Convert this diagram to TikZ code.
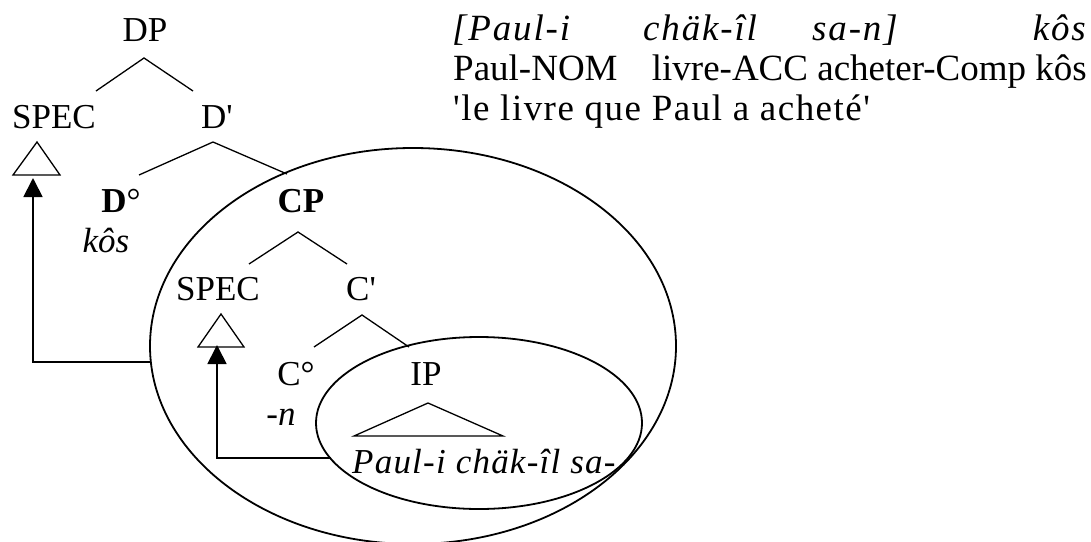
\documentclass[tikz,border=0pt]{standalone}
\usepackage{fontspec}
\newfontfamily\tnr{Liberation Serif}
\newfontfamily\tnrsp{Liberation Serif}[LetterSpace=3.5]
\newfontfamily\tnrgl{Liberation Serif}[LetterSpace=4]
\newfontfamily\tnrglit{Liberation Serif}[LetterSpace=5]
\usetikzlibrary{arrows.meta,shapes.geometric}
\tikzset{
  lbl/.style={font=\tnr\fontsize{35}{42}\selectfont, inner sep=0pt, anchor=base},
  lblw/.style={lbl, anchor=base west},
  lble/.style={lbl, anchor=base east},
  glw/.style={lblw, font=\tnr\fontsize{37}{44}\selectfont},
  gle/.style={lble, font=\tnr\fontsize{37}{44}\selectfont},
  glitw/.style={lblw, font=\tnrglit\itshape\fontsize{37}{44}\selectfont},
  glite/.style={lble, font=\tnrglit\itshape\fontsize{37}{44}\selectfont},
  branch/.style={line width=1.3pt, line join=miter},
  tri/.style={line width=1.3pt, line join=miter},
  ring/.style={ellipse, draw, line width=1.8pt, inner sep=0pt},
  mover/.style={line width=1.8pt, -{Triangle[length=19pt,width=19pt]}}
}
\begin{document}
\begin{tikzpicture}[x=1pt,y=-1pt]
\useasboundingbox (0,0) rectangle (1091,541);
% ellipses
\node[ring, minimum width=526pt, minimum height=396pt] (big) at (413,346) {};
\node[ring, minimum width=326pt, minimum height=172pt] (small) at (479,423) {};
% tree labels
\node[lbl] (dp) at (145,41) {DP};
\node[lbl] (spec1) at (54,128) {SPEC};
\node[lbl] (dbar) at (217,128) {D'};
\node[lbl] (d0) at (121,212) {\textbf{D}°};
\node[lbl] (cp) at (301,212) {\textbf{CP}};
\node[lbl] (kos) at (106,252) {\itshape kôs};
\node[lbl] (spec2) at (218,300) {SPEC};
\node[lbl] (cbar) at (361,300) {C'};
\node[lbl] (c0) at (296,385) {C°};
\node[lbl] (ip) at (426,385) {IP};
\node[lbl] (neg) at (281,425) {\itshape -n};
\node[lblw, font=\tnrsp\itshape\fontsize{35}{42}\selectfont] (pauli) at (352,473) {Paul-i chäk-îl sa-};
% branch points
\coordinate (dpA) at (144,58); \coordinate (dpL) at (96,91); \coordinate (dpR) at (193,91);
\coordinate (dbA) at (213,142); \coordinate (dbL) at (139,175); \coordinate (dbR) at (287,174);
\coordinate (cpA) at (298,232); \coordinate (cpL) at (249,264); \coordinate (cpR) at (347,264);
\coordinate (cbA) at (362,315); \coordinate (cbL) at (314,347); \coordinate (cbR) at (409,347);
\draw[branch] (dpL) -- (dpA) -- (dpR);
\draw[branch] (dbL) -- (dbA) -- (dbR);
\draw[branch] (cpL) -- (cpA) -- (cpR);
\draw[branch] (cbL) -- (cbA) -- (cbR);
% triangles
\coordinate (t1A) at (37,142); \coordinate (t1L) at (13,175); \coordinate (t1R) at (60,175);
\coordinate (t2A) at (221,314); \coordinate (t2L) at (198,347); \coordinate (t2R) at (244,347);
\coordinate (t3A) at (428,403); \coordinate (t3L) at (354,436); \coordinate (t3R) at (503,436);
\draw[tri] (t1A) -- (t1L) -- (t1R) -- cycle;
\draw[tri] (t2A) -- (t2L) -- (t2R) -- cycle;
\draw[tri] (t3A) -- (t3L) -- (t3R) -- cycle;
% movement arrows
\coordinate (m1s) at (151,362); \coordinate (m1t) at (33,178);
\coordinate (m2s) at (331,458); \coordinate (m2t) at (217,345);
\draw[mover] (m1s) -| (m1t);
\draw[mover] (m2s) -| (m2t);
% gloss
\node[glitw] (g1a) at (452,40) {[Paul-i};
\node[glitw] (g1b) at (643,40) {chäk-îl};
\node[glitw] (g1c) at (812,40) {sa-n]};
\node[glite] (g1d) at (1086,40) {kôs};
\node[glw] (g2a) at (453,80) {Paul-NOM};
\node[gle] (g2b) at (1087,80) {livre-ACC acheter-Comp kôs};
\node[glw, font=\tnrgl\fontsize{37}{44}\selectfont] (g3) at (453,120) {'le livre que Paul a acheté'};
\end{tikzpicture}
\end{document}
